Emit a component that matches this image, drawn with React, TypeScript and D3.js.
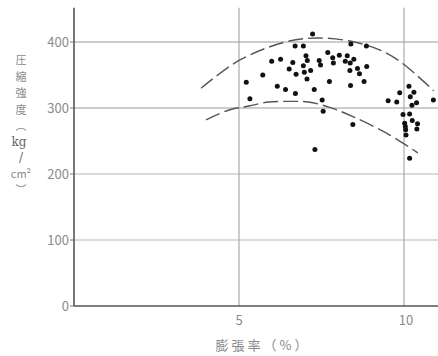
import { useEffect, useRef } from 'react';
import * as d3 from 'd3';

// 膨張率 (%) vs 圧縮強度 (kg/cm2)
const expansion = [
    7.23, 6.70, 6.95, 8.39, 8.86, 5.99, 6.26, 6.63, 7.03, 7.07, 7.43, 7.47, 7.69, 7.84, 7.86, 8.04,
    8.22, 8.28, 8.37, 8.48, 8.59, 8.87, 6.52, 6.95, 6.73, 6.98, 7.17, 7.06, 8.36, 8.65, 7.74, 8.79,
    5.22, 5.72, 6.16, 6.41, 6.71, 7.28, 8.38, 5.33, 7.52, 7.55, 8.45, 7.30, 9.87, 9.52, 9.78, 10.15,
    10.30, 10.19, 10.38, 10.89, 10.24, 9.97, 10.17, 10.25, 10.02, 10.41, 10.04, 10.39, 10.05, 10.06, 10.17,
];
const strength = [
    412, 394, 394, 397, 394, 371, 374, 369, 379, 372, 372, 365, 384, 376, 368, 380,
    371, 379, 368, 374, 360, 363, 359, 364, 351, 354, 357, 344, 357, 352, 340, 340,
    339, 350, 333, 328, 322, 328, 334, 314, 312, 295, 275, 237, 323, 311, 309, 333,
    324, 317, 308, 312, 304, 290, 291, 281, 277, 276, 272, 268, 267, 259, 224,
];

// dashed envelope curves
const upperX = [3.85, 5.0, 6.4, 7.4, 8.5, 9.4, 10.0, 10.9];
const upperY = [330, 372, 400, 406, 400, 385, 366, 326];
const lowerX = [4.0, 4.7, 5.3, 5.9, 6.5, 7.1, 7.75, 8.45, 9.47, 10.42];
const lowerY = [282, 297, 303, 309, 310, 309, 301, 287, 262, 232];

const yTicks = [0, 100, 200, 300, 400];
const xTicks = [5, 10];
// vertical y title, one glyph per row
const yTitle = ['圧', '縮', '強', '度', '︵', 'kg', '/', 'cm²', '︶'];
const yTitleRows = [64, 80.5, 97, 113.5, 130, 146, 162, 178, 194];

export default function App() {
    const ref = useRef<SVGSVGElement>(null);

    useEffect(() => {
        if (!ref.current) return;
        const svg = d3.select(ref.current);
        svg.selectAll("*").remove();

        const width = 438;
        const height = 356;
        const left = 74;
        const bottom = 306;

        const xScale = d3.scaleLinear().domain([0, 11]).range([left, left + 11 * 33]);
        const yScale = d3.scaleLinear().domain([0, 400]).range([bottom, 42]);

        svg.append("rect").attr("width", width).attr("height", height).attr("fill", "#fff");

        const font = "'Noto Sans CJK JP', 'Noto Sans', sans-serif";
        const labelColor = "#8a8a8a";

        // horizontal grid
        yTicks.filter(t => t > 0).forEach(t => {
            svg.append("line")
                .attr("x1", left).attr("x2", width)
                .attr("y1", yScale(t)).attr("y2", yScale(t))
                .attr("stroke", t >= 300 ? "#9a9a9a" : "#b5b5b5")
                .attr("stroke-width", 1);
        });

        // vertical grid
        xTicks.forEach(t => {
            svg.append("line")
                .attr("x1", xScale(t)).attr("x2", xScale(t))
                .attr("y1", yScale(452)).attr("y2", bottom)
                .attr("stroke", "#9a9a9a")
                .attr("stroke-width", 1);
        });

        // axes
        svg.append("line")
            .attr("x1", left).attr("x2", left)
            .attr("y1", yScale(452)).attr("y2", bottom)
            .attr("stroke", "#555").attr("stroke-width", 1.6);
        svg.append("line")
            .attr("x1", left).attr("x2", width)
            .attr("y1", bottom).attr("y2", bottom)
            .attr("stroke", "#555").attr("stroke-width", 1.6);

        // y tick labels
        yTicks.forEach(t => {
            svg.append("line")
                .attr("x1", left - 4).attr("x2", left)
                .attr("y1", yScale(t)).attr("y2", yScale(t))
                .attr("stroke", "#777");
            svg.append("text")
                .attr("x", left - 5).attr("y", yScale(t))
                .attr("dy", "0.35em")
                .attr("text-anchor", "end")
                .attr("font-family", font)
                .attr("font-size", 13)
                .attr("fill", labelColor)
                .text(t);
        });

        // x tick labels
        xTicks.forEach(t => {
            svg.append("text")
                .attr("x", xScale(t) + (t >= 10 ? 2 : 0)).attr("y", bottom + 19)
                .attr("text-anchor", "middle")
                .attr("font-family", font)
                .attr("font-size", 13)
                .attr("fill", labelColor)
                .text(t);
        });

        // x title
        svg.append("text")
            .attr("x", 263).attr("y", 350)
            .attr("text-anchor", "middle")
            .attr("font-family", font)
            .attr("font-size", 13)
            .attr("letter-spacing", 3)
            .attr("fill", labelColor)
            .text("膨張率（%）");

        // y title, stacked vertically in one text
        const yt = svg.append("text")
            .attr("text-anchor", "middle")
            .attr("font-family", font)
            .attr("font-size", 11)
            .attr("fill", labelColor);
        yTitle.forEach((c, i) => {
            const s = yt.append("tspan")
                .attr("x", c === 'kg' ? 19 : 21)
                .attr("y", yTitleRows[i])
                .text(c);
            if (c === 'kg' || c === '/') {
                s.attr("fill", "#666").attr("font-family", "'DejaVu Serif', serif").attr("font-size", 12);
            }
        });

        // dashed curves
        const line = d3.line<[number, number]>()
            .x(d => xScale(d[0]))
            .y(d => yScale(d[1]))
            .curve(d3.curveCatmullRom);

        [[upperX, upperY], [lowerX, lowerY]].forEach(([xs, ys]) => {
            svg.append("path")
                .datum(xs.map((x, i) => [x, ys[i]] as [number, number]))
                .attr("fill", "none")
                .attr("stroke", "#555")
                .attr("stroke-width", 1.4)
                .attr("stroke-dasharray", "15,5")
                .attr("d", line);
        });

        // points
        expansion.forEach((x, i) => {
            svg.append("circle")
                .attr("cx", xScale(x))
                .attr("cy", yScale(strength[i]))
                .attr("r", 2.5)
                .attr("fill", "#111");
        });
    }, [ref]);

    return (
        <svg ref={ref} width={438} height={356} style={{ position: 'absolute', left: 0, top: 0 }} />
    );
}
